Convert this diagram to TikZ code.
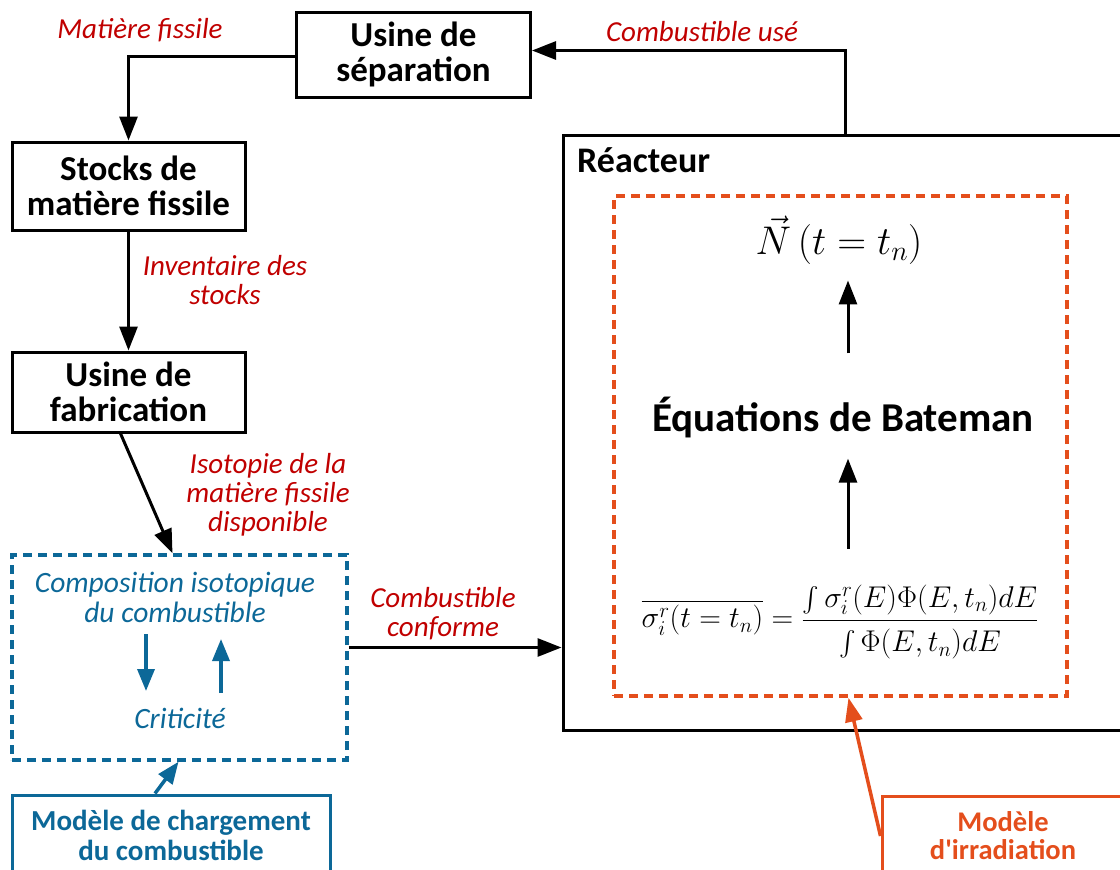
\RequirePackage{fix-cm}
\documentclass[tikz,border=0pt]{standalone}
\usepackage{amsmath}
\usepackage[no-math]{fontspec}
\setmainfont{Carlito}
\usetikzlibrary{arrows.meta}
\definecolor{redt}{RGB}{192,0,0}
\definecolor{bluet}{RGB}{12,104,152}
\definecolor{oranget}{RGB}{228,78,28}
\begin{document}
\begin{tikzpicture}[x=1pt,y=-1pt,
  box/.style={draw, line width=3pt, align=center, inner sep=0pt, font=\bfseries\fontsize{35}{35}\selectfont},
  lab/.style={text=redt, align=center, inner sep=0pt, font=\itshape\fontsize{29}{29}\selectfont},
  bluelab/.style={text=bluet, align=center, inner sep=0pt, font=\itshape\fontsize{29.5}{30}\selectfont},
  arr/.style={line width=3pt, -{Triangle[length=24pt,width=18pt]}},
  barr/.style={draw=bluet, line width=3.5pt, -{Triangle[length=22pt,width=17pt]}},
  oarr/.style={draw=oranget, line width=3.5pt, -{Triangle[length=24pt,width=17pt]}},
  dashbox/.style={line width=3.5pt, dash pattern=on 9pt off 6pt},
]
\useasboundingbox (0,0) rectangle (1120,870);
\clip (0,0) rectangle (1120,870);

% main boxes
\node[box, minimum width=234, minimum height=85] (sep) at (413.5,54.5) {Usine de\\séparation};
\node[box, minimum width=233, minimum height=88] (stocks) at (128.5,186) {Stocks de\\matière fissile};
\node[box, minimum width=233, minimum height=80] (fab) at (128.5,392) {Usine de\\fabrication};
\node[draw=bluet, dashbox, minimum width=335, minimum height=205] (comp) at (179.5,657.5) {};
\node[draw=bluet, line width=3pt, minimum width=318, minimum height=80, align=center, inner sep=0pt,
      text=bluet, font=\bfseries\fontsize{29}{30}\selectfont] (charge) at (171,835) {Modèle de chargement\\du combustible};
\node[draw, line width=3pt, minimum width=564, minimum height=595] (reac) at (845,432.5) {};
\node[anchor=west, inner sep=0pt, font=\bfseries\fontsize{36}{36}\selectfont] (reaclab) at (577,160) {Réacteur};
\node[draw=oranget, dashbox, minimum width=453, minimum height=500] (irr) at (840.5,446) {};
\node[draw=oranget, line width=3pt, minimum width=242, minimum height=80, align=center, inner sep=0pt,
      text=oranget, font=\bfseries\fontsize{28.5}{28}\selectfont] (modirr) at (1003,836) {Modèle\\d\textquotesingle irradiation};

% contents of composition box
\node[bluelab] (comptext) at (175,597) {Composition isotopique\\du combustible};
\node[bluelab] (crit) at (180,718) {Criticité};
\coordinate (d1) at (146,634);
\coordinate (d2) at (146,691);
\coordinate (u1) at (221,693);
\coordinate (u2) at (221,639);
\draw[barr] (d1) -- (d2);
\draw[barr] (u1) -- (u2);

% contents of irradiation box
\node[inner sep=0pt, font=\fontsize{40}{44}\selectfont] (N) at (839,240) {$\vec{N}\left(t=t_n\right)$};
\node[inner sep=0pt, font=\bfseries\fontsize{41}{44}\selectfont] (bat) at (843,418) {Équations de Bateman};
\node[inner sep=0pt, font=\fontsize{30}{32}\selectfont] (form) at (840,622)
  {$\overline{\sigma_i^r(t=t_n)}=\dfrac{\int\sigma_i^r(E)\Phi(E,t_n)dE\rule[-6pt]{0pt}{6pt}}{\int\Phi(E,t_n)dE\rule{0pt}{28pt}}$};
\draw[arr, shorten <=44pt, shorten >=16pt] ([xshift=5pt]bat.north) -- ([xshift=9pt]N.south);
\draw[arr, shorten <=36pt, shorten >=20pt] ([xshift=8pt]form.north) -- ([xshift=5pt]bat.south);

% connectors
\draw[arr] (reac.north) |- ([yshift=4pt]sep.east);
\draw[arr] ([yshift=-2pt]sep.west) -| (stocks.north);
\draw[arr] (stocks.south) -- (fab.north);
\draw[arr] ([xshift=-8pt]fab.south) -- ([xshift=-7pt]comp.north);
\draw[arr] ([yshift=10pt]comp.east) -- ([yshift=10pt]comp.east -| reac.west);
\draw[barr] ([xshift=-16pt]charge.north) -- ([xshift=-1pt]comp.south);
\draw[oarr] (modirr.west) -- ([xshift=8pt]irr.south);

% labels
\node[lab] (l1) at (140,30) {Matière fissile};
\node[lab] (l2) at (702,32) {Combustible usé};
\node[lab] (l3) at (225,280) {Inventaire des\\stocks};
\node[lab] (l4) at (268,495) {Isotopie de la\\matière fissile\\disponible};
\node[lab] (l5) at (443,614) {Combustible\\conforme};
\end{tikzpicture}
\end{document}
